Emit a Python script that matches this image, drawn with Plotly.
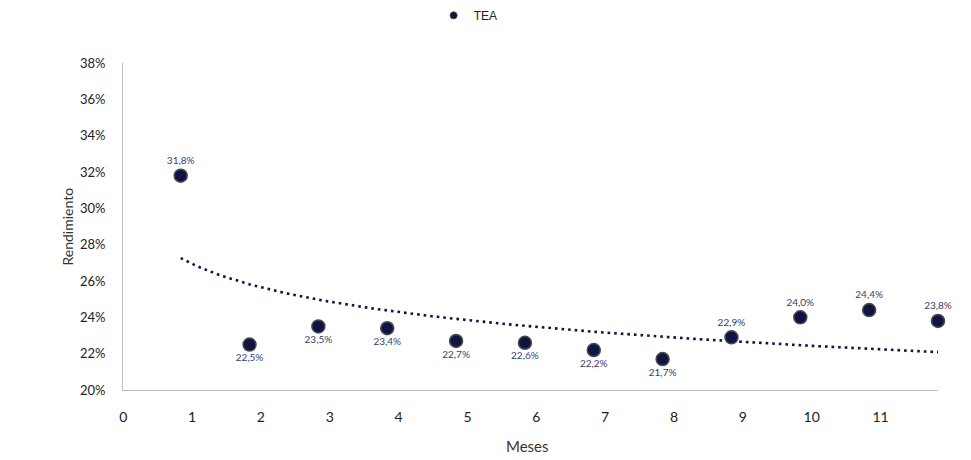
import numpy as np
import plotly.graph_objects as go

# Data
months = [1, 2, 3, 4, 5, 6, 7, 8, 9, 10, 11, 12]
tea = [31.8, 22.5, 23.5, 23.4, 22.7, 22.6, 22.2, 21.7, 22.9, 24.0, 24.4, 23.8]
x_tick_labels = ["0", "1", "2", "3", "4", "5", "6", "7", "8", "9", "10", "11"]
y_tick_values = [20, 22, 24, 26, 28, 30, 32, 34, 36, 38]
label_positions = ["top center"] + ["bottom center"] * 7 + ["top center"] * 4

# logarithmic trendline (least-squares fit on ln(x), as in the spreadsheet)
b, a = np.polyfit(np.log(months), tea, 1)
trend_x = np.linspace(months[0], months[-1], 200)
trend_y = a + b * np.log(trend_x)

y_frac = [v / 100 for v in tea]
labels = [f"{v:.1f}%".replace(".", ",") for v in tea]

TICK_SHIFT = 0.165
tick_pos = [i + TICK_SHIFT for i in range(len(x_tick_labels))]

NAVY = "#0f1445"

fig = go.Figure()
fig.add_trace(go.Scatter(
    x=trend_x, y=trend_y / 100, mode="lines",
    line=dict(color=NAVY, width=2.6, dash="2.6px,4px"),
    showlegend=False, hoverinfo="skip"))
fig.add_trace(go.Scatter(
    x=months, y=y_frac, mode="markers+text", name="TEA",
    marker=dict(size=13, color=NAVY, line=dict(color="#4a4a4a", width=1.5)),
    text=labels, textposition=label_positions,
    textfont=dict(family="Lato", size=10, color="#33406e"),
    cliponaxis=False, showlegend=False))
# legend entry (small symbol as in the reference)
fig.add_trace(go.Scatter(
    x=[None], y=[None], mode="markers", name="TEA",
    marker=dict(size=7, color=NAVY, line=dict(color="#4a4a4a", width=1))))

fig.update_layout(
    width=963, height=452,
    margin=dict(l=115, r=33, t=55, b=70, autoexpand=False),
    plot_bgcolor="white", paper_bgcolor="white",
    font=dict(family="Lato", color="#222222"),
    showlegend=True,
    legend=dict(orientation="h", xref="container", x=0.442, xanchor="left",
                yref="paper", y=1.19, yanchor="top", itemwidth=30,
                bgcolor="rgba(0,0,0,0)",
                font=dict(family="Liberation Sans", size=12, color="#222222")),
    xaxis=dict(range=[TICK_SHIFT - 0.003, 12], tickvals=tick_pos, ticktext=x_tick_labels,
               showgrid=False, zeroline=False, showline=True, linecolor="#bfbfbf",
               linewidth=1, ticks="", ticklabelstandoff=14, automargin=False,
               tickfont=dict(size=14, color="#222222")),
    yaxis=dict(range=[0.20, 0.38], tickvals=[v / 100 for v in y_tick_values],
               ticktext=[f"{v}%" for v in y_tick_values],
               showgrid=False, zeroline=False, showline=True, linecolor="#bfbfbf",
               linewidth=1, ticks="", ticklabelstandoff=14, automargin=False,
               tickfont=dict(size=13, color="#222222")),
    annotations=[
        dict(text="Meses", xref="paper", yref="paper", x=0.5, y=0, xshift=-3, yshift=-56,
             xanchor="center", yanchor="middle",
             showarrow=False, font=dict(size=15, color="#333333")),
        dict(text="Rendimiento", xref="paper", yref="paper", x=0, y=0.5, xshift=-56,
             xanchor="center", yanchor="middle",
             textangle=-90, showarrow=False, font=dict(size=14, color="#333333")),
    ],
)

fig.write_html("out.html")
